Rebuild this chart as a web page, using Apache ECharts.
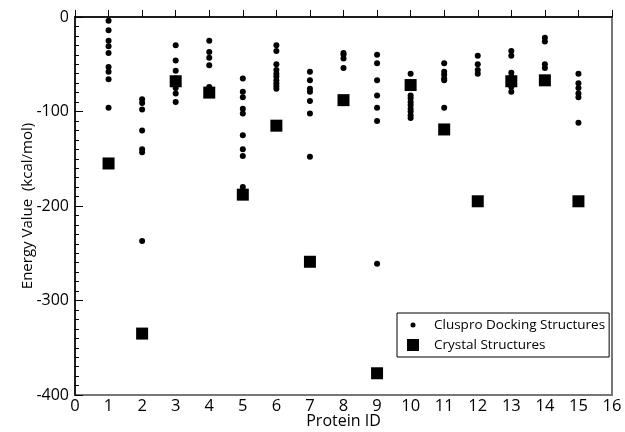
<!DOCTYPE html>
<html>
<head>
<meta charset="utf-8">
<script src="https://cdn.jsdelivr.net/npm/echarts@6/dist/echarts.min.js"></script>
<style>
  html, body { margin: 0; padding: 0; background: #fff; }
  #chart { width: 625px; height: 432px; }
</style>
</head>
<body>
<div id="chart"></div>
<script>
// protein ids on the x axis
var proteinIds = [1, 2, 3, 4, 5, 6, 7, 8, 9, 10, 11, 12, 13, 14, 15];

// cluspro docking energies, one list per protein (kcal/mol)
var docking = [
  [-4, -14, -25, -31, -38, -53, -58, -66, -96],
  [-87, -91, -98, -120, -140, -143, -237],
  [-30, -46, -57, -65, -70, -75, -81, -90],
  [-25, -37, -43, -51, -74],
  [-65, -79, -85, -97, -102, -125, -140, -147, -180],
  [-30, -36, -50, -56, -60, -63, -67, -70, -73, -76],
  [-58, -67, -76, -79, -89, -102, -148],
  [-38, -40, -44, -54],
  [-40, -49, -67, -83, -96, -110, -261],
  [-60, -83, -86, -90, -93, -97, -100, -104, -107],
  [-49, -58, -61, -65, -67, -96],
  [-41, -50, -56, -60],
  [-36, -41, -59, -63, -66, -70, -74, -79],
  [-22, -26, -50, -54],
  [-60, -70, -75, -81, -85, -112]
];

// crystal structure energies
var crystal = [-155, -335, -68, -80, -188, -115, -259, -88, -377, -72, -119, -195, -68, -67, -195];

var dockingPts = [];
proteinIds.forEach(function (id, i) {
  docking[i].forEach(function (v) { dockingPts.push([id, v]); });
});
var crystalPts = proteinIds.map(function (id, i) { return [id, crystal[i]]; });

var font = '"Open Sans", "DejaVu Sans", sans-serif';
var chart = echarts.init(document.getElementById('chart'));

chart.setOption({
  backgroundColor: '#fff',
  animation: false,
  textStyle: { fontFamily: font, color: '#000' },
  grid: {
    left: 75, right: 13, top: 17, bottom: 37,
    containLabel: false, outerBoundsMode: 'none',
    show: true, borderColor: '#777', borderWidth: 2
  },
  legend: {
    orient: 'vertical',
    left: 397, top: 313,
    padding: [5, 4, 5, 10],
    itemGap: 6,
    itemWidth: 22, itemHeight: 12,
    borderColor: '#000', borderWidth: 1,
    textStyle: { fontFamily: font, fontSize: 13.5, color: '#000' },
    data: [
      { name: 'Cluspro Docking Structures', icon: 'path://M0,0M22,12M6,3.5A2.5,2.5,0,1,1,6,8.5A2.5,2.5,0,1,1,6,3.5Z' },
      { name: 'Crystal Structures', icon: 'path://M0,0M22,12M0,0H12V12H0Z' }
    ]
  },
  xAxis: {
    type: 'value', min: 0, max: 16, interval: 1,
    name: 'Protein ID', nameLocation: 'middle', nameGap: 18, nameMoveOverlap: false,
    nameTextStyle: { fontSize: 16, color: '#000', fontFamily: font },
    axisLine: { lineStyle: { color: '#000', width: 1.5 } },
    axisTick: { inside: true, length: 7, lineStyle: { color: '#000' } },
    axisLabel: { fontSize: 16.5, color: '#000', margin: 3, fontFamily: font },
    splitLine: { show: false }
  },
  yAxis: {
    type: 'value', min: -400, max: 0, interval: 100,
    name: 'Energy Value  (kcal/mol)', nameLocation: 'middle', nameGap: 40, nameMoveOverlap: false,
    nameTextStyle: { fontSize: 15, color: '#000', fontFamily: font },
    axisLine: { show: true, lineStyle: { color: '#000', width: 1.5 } },
    axisTick: { inside: true, length: 8, lineStyle: { color: '#000' } },
    minorTick: { show: true, splitNumber: 10, length: 4, lineStyle: { color: '#000' } },
    axisLabel: { fontSize: 16, color: '#000', margin: 6, fontFamily: font },
    splitLine: { show: false }
  },
  series: [
    {
      name: 'Cluspro Docking Structures',
      type: 'scatter',
      symbol: 'circle',
      symbolSize: 6,
      itemStyle: { color: '#000', opacity: 1 },
      data: dockingPts
    },
    {
      name: 'Crystal Structures',
      type: 'scatter',
      symbol: 'rect',
      symbolSize: 12,
      itemStyle: { color: '#000', opacity: 1 },
      data: crystalPts
    }
  ]
});
</script>
</body>
</html>
